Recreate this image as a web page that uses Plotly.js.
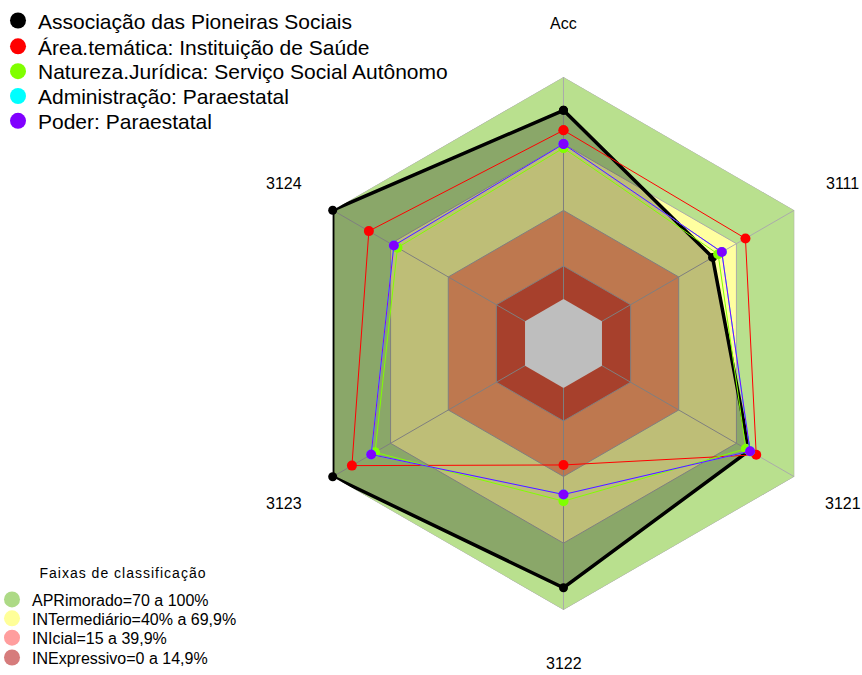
<!DOCTYPE html>
<html><head><meta charset="utf-8">
<script src="https://cdn.plot.ly/plotly-3.0.1.min.js"></script>
<style>
html,body{margin:0;padding:0;background:#fff}#chart{width:862px;height:675px}
#chart .annotation[data-index="6"] .annotation-text{letter-spacing:1px}
</style>
</head><body><div id="chart"></div>
<script>
// ---- data ----
const categories = ['Acc', '3111', '3121', '3122', '3123', '3124'];
const seriesNames = [
  'Associação das Pioneiras Sociais',
  'Área.temática: Instituição de Saúde',
  'Natureza.Jurídica: Serviço Social Autônomo',
  'Administração: Paraestatal',
  'Poder: Paraestatal'
];
const associacao       = [85.0, 57.5, 76.5, 90.0, 100.0, 100.0];
const areaTematica     = [76.0, 74.6, 80.2, 34.7, 90.0, 81.2];
const naturezaJuridica = [68.0, 60.4, 74.8, 51.0, 78.0, 66.3];
const administracao    = [69.8, 62.3, 77.0, 48.0, 80.0, 68.2];
const poder            = [69.8, 62.3, 77.0, 48.0, 80.0, 68.2];
const bandTitle = 'Faixas de classificação';
const bandNames = ['APRimorado=70 a 100%', 'INTermediário=40% a 69,9%', 'INIcial=15 a 39,9%', 'INExpressivo=0 a 14,9%'];
const bandUpper = [100, 69.9, 39.9, 14.9];
const axisMin = -20, axisZero = 0, axisMax = 100;

// ---- styles ----
const seriesColors = ['#000000', '#FF0000', '#80FF00', '#00FFFF', '#8000FF'];
const seriesWidths = [3.5, 1, 1, 1, 1];
const seriesMarker = [9, 10, 10, 10, 10];
const seriesLegendY = [16, 42, 67, 92, 117];
const bandFill = ['#B9E08E', '#FFFFA0', '#FFA16B', '#E1563B'];
const bandLegend = ['#ADDA86', '#FFFF99', '#FF9E9E', '#D67C7C'];
const bandLegendY = [599, 618, 637.5, 657.5];
const FONT = 'Liberation Sans, Arial, sans-serif';

const W = 862, H = 675, cx = 563.5, cy = 341, R = 268.5;
const close = a => a.concat([a[0]]);
const thetaC = close(categories);
const traces = [];

// bands
bandUpper.forEach((v, i) => {
  traces.push({type: 'scatterpolar', mode: 'none', r: close(categories.map(() => v)), theta: thetaC,
    fill: 'toself', fillcolor: bandFill[i], showlegend: false, hoverinfo: 'skip'});
});
// blank center
traces.push({type: 'scatterpolar', mode: 'none', r: close(categories.map(() => axisZero)), theta: thetaC,
  fill: 'toself', fillcolor: '#FFFFFF', showlegend: false, hoverinfo: 'skip'});
// grid rings
bandUpper.forEach(v => {
  traces.push({type: 'scatterpolar', mode: 'lines', r: close(categories.map(() => v)), theta: thetaC,
    line: {color: '#ABABAB', width: 1}, showlegend: false, hoverinfo: 'skip'});
});
// spokes
categories.forEach(c => {
  traces.push({type: 'scatterpolar', mode: 'lines', r: [axisZero, axisMax], theta: [c, c],
    line: {color: '#ABABAB', width: 1}, showlegend: false, hoverinfo: 'skip'});
});

// series
const seriesData = [associacao, areaTematica, naturezaJuridica, administracao, poder];
seriesData.forEach((d, i) => {
  traces.push({type: 'scatterpolar', mode: 'lines+markers', r: close(d), theta: thetaC,
    fill: i === 0 ? 'toself' : 'none', fillcolor: 'rgba(0,0,0,0.255)',
    line: {color: seriesColors[i], width: seriesWidths[i]},
    marker: {color: seriesColors[i], size: seriesMarker[i]},
    name: seriesNames[i], showlegend: false});
});

const layout = {
  width: W, height: H, margin: {l: 0, r: 0, t: 0, b: 0},
  paper_bgcolor: '#fff',
  polar: {
    domain: {x: [(cx - R) / W, (cx + R) / W], y: [(H - cy - R) / H, (H - cy + R) / H]},
    gridshape: 'linear', bgcolor: 'rgba(0,0,0,0)',
    radialaxis: {range: [axisMin, axisMax], visible: false, showgrid: false},
    angularaxis: {type: 'category', categoryorder: 'array', categoryarray: categories,
      direction: 'clockwise', rotation: 90, showticklabels: false, showgrid: false,
      showline: false, ticks: ''}
  },
  showlegend: true
};

// legend entries: one small legend per entry so each row sits where the original puts it
const seriesLegendIds = ['legend', 'legend6', 'legend7', 'legend8', 'legend9'];
const bandLegendIds = ['legend2', 'legend3', 'legend4', 'legend5'];
seriesNames.forEach((n, i) => {
  traces.push({type: 'scatterpolar', mode: 'markers', r: [null], theta: [categories[0]], name: n,
    marker: {color: seriesColors[i], size: 17}, legend: seriesLegendIds[i], showlegend: true});
  layout[seriesLegendIds[i]] = {x: 0, y: 1 - seriesLegendY[i] / H, xanchor: 'left', yanchor: 'middle',
    bgcolor: 'rgba(0,0,0,0)', indentation: -2, itemsizing: 'trace',
    font: {family: FONT, size: 21, color: '#000'}};
});
bandNames.forEach((n, i) => {
  traces.push({type: 'scatterpolar', mode: 'markers', r: [null], theta: [categories[0]], name: n,
    marker: {color: bandLegend[i], size: 16}, legend: bandLegendIds[i], showlegend: true});
  layout[bandLegendIds[i]] = {x: 0, y: 1 - bandLegendY[i] / H, xanchor: 'left', yanchor: 'middle',
    bgcolor: 'rgba(0,0,0,0)', indentation: -8, itemsizing: 'trace',
    font: {family: FONT, size: 16, color: '#000'}};
});

// axis labels
const annotations = categories.map((c, k) => {
  const ang = Math.PI / 2 - k * 2 * Math.PI / categories.length;
  const px = cx + 1.2 * R * Math.cos(ang), py = cy - 1.2 * R * Math.sin(ang);
  return {text: c, x: px / W, y: 1 - py / H, xref: 'paper', yref: 'paper', showarrow: false,
    xanchor: 'center', yanchor: 'middle', font: {family: FONT, size: 16, color: '#000'}};
});
annotations.push({text: bandTitle, x: 123 / W, y: 1 - 572 / H, xref: 'paper', yref: 'paper', showarrow: false,
  xanchor: 'center', yanchor: 'middle', font: {family: FONT, size: 14, color: '#000'}});
layout.annotations = annotations;

Plotly.newPlot('chart', traces, layout, {displayModeBar: false, staticPlot: true});
</script></body></html>
